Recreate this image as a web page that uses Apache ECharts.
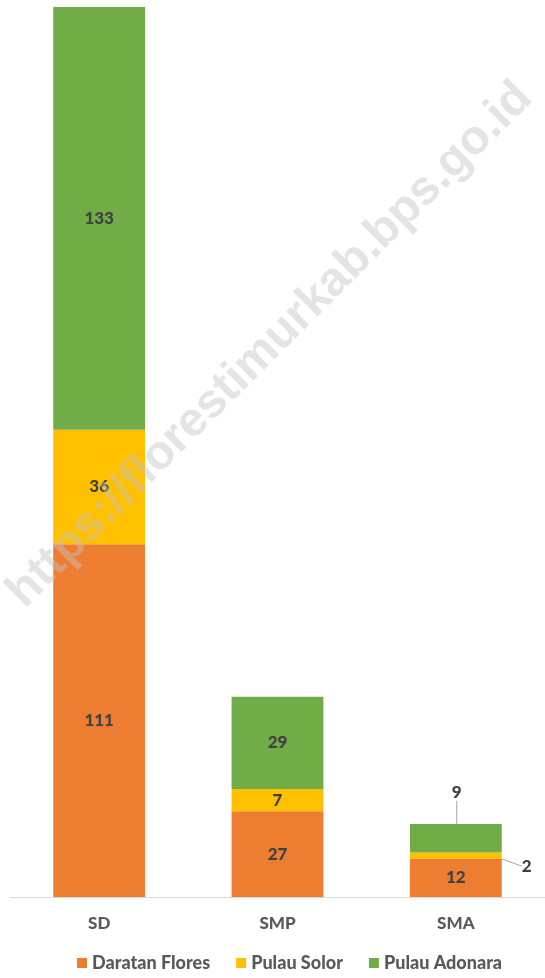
<!DOCTYPE html>
<html>
<head>
<meta charset="utf-8">
<script src="https://cdn.jsdelivr.net/npm/echarts@6/dist/echarts.min.js"></script>
<style>
  html, body { margin: 0; padding: 0; background: #fff; }
  #main { width: 545px; height: 978px; }
</style>
</head>
<body>
<div id="main"></div>
<script>
const categories = ['SD', 'SMP', 'SMA'];
const daratanFlores = [111, 27, 12];
const pulauSolor = [36, 7, 2];
const pulauAdonara = [133, 29, 9];

const labelFont = {
    fontFamily: 'Lato',
    fontWeight: 900,
    fontSize: 17,
    color: '#404040'
};

let chart = echarts.init(document.getElementById('main'));

// small SMA values are pulled outside the bar with a leader line
function moveLabel(params) {
    if (params.dataIndex !== 2) return {};
    if (params.seriesIndex === 1) {
        return { x: params.rect.x + params.rect.width + 20, y: params.rect.y + params.rect.height / 2 + 2 };
    }
    if (params.seriesIndex === 2) {
        return { x: params.rect.x + params.rect.width / 2 - 4, y: params.rect.y - 40 };
    }
    return {};
}

let option = {
    animation: false,
    color: ['#ED7D31', '#FFC000', '#70AD47'],
    grid: { left: 10, right: -7, top: 7, bottom: 81, containLabel: false },
    graphic: [{
        type: 'text',
        x: 270,
        y: 345,
        rotation: Math.PI / 4,
        z: 100,
        style: {
            text: 'https://florestimurkab.bps.go.id',
            fontFamily: 'Liberation Sans',
            fontWeight: 'bold',
            fontSize: 48,
            fill: 'rgba(195,195,195,0.45)',
            align: 'center',
            verticalAlign: 'middle'
        }
    }],
    xAxis: {
        type: 'category',
        data: categories,
        axisLine: { lineStyle: { color: '#d9d9d9', width: 1 } },
        axisTick: { show: false },
        axisLabel: {
            margin: 18,
            fontFamily: 'Lato',
            fontWeight: 900,
            fontSize: 17,
            color: '#595959'
        }
    },
    yAxis: {
        type: 'value',
        min: 0,
        max: 280,
        show: false,
        splitLine: { show: false }
    },
    legend: {
        bottom: 1,
        left: 72,
        itemWidth: 10,
        itemHeight: 10,
        itemGap: 26,
        icon: 'rect',
        textStyle: {
            fontFamily: 'Lato',
            fontWeight: 900,
            fontSize: 18,
            color: '#595959'
        },
        data: ['Daratan Flores', 'Pulau Solor', 'Pulau Adonara']
    },
    series: [
        { name: 'Daratan Flores', data: daratanFlores },
        { name: 'Pulau Solor', data: pulauSolor },
        { name: 'Pulau Adonara', data: pulauAdonara }
    ].map(s => ({
        name: s.name,
        type: 'bar',
        stack: 'total',
        barWidth: '51.5%',
        data: s.data,
        label: Object.assign({ show: true, position: 'inside' }, labelFont),
        labelLine: { show: true, lineStyle: { color: '#a6a6a6', width: 1 } },
        labelLayout: moveLabel
    }))
};

chart.setOption(option);

window.onresize = () => {
    chart.resize();
};
</script>
</body>
</html>
